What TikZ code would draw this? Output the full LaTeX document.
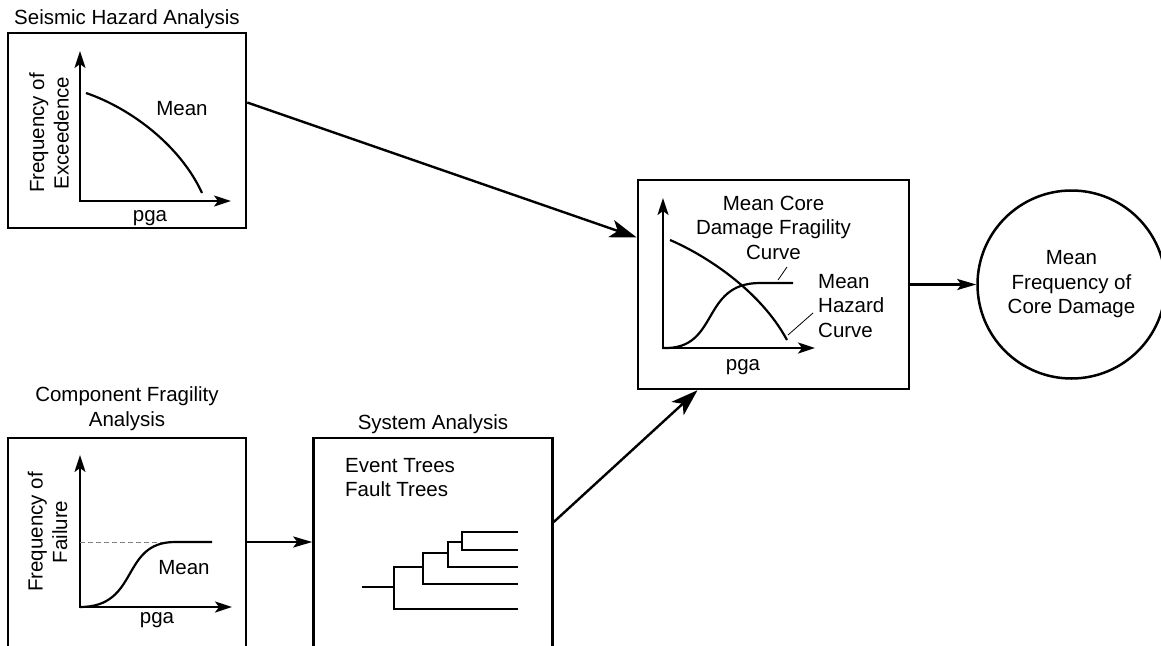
\documentclass[tikz,border=0pt]{standalone}
\usepackage{fontspec}
\setmainfont{Liberation Sans}
\usetikzlibrary{arrows.meta,positioning}

\begin{document}
\begin{tikzpicture}[x=1pt,y=-1pt,font=\fontsize{20.5}{24.5}\selectfont,
                    panel/.style={rectangle, draw, line width=2.5pt, inner sep=0pt},
                    title/.style={align=center, inner sep=0pt},
                    axes/.style={line width=2.2pt, {Stealth[length=17pt,width=11pt,inset=4pt]}-{Stealth[length=17pt,width=11pt,inset=4pt]}},
                    curve/.style={line width=2.2pt},
                    leader/.style={line width=0.8pt},
                    tree/.style={line width=2pt},
                    link/.style={line width=2.4pt, -{Stealth[length=19pt,width=11pt,inset=4pt]}},
                    biglink/.style={line width=2.4pt, -{Stealth[length=27pt,width=18pt,inset=7pt]}}]
  \useasboundingbox (0,0) rectangle (1161,645);
  \clip (0,0) rectangle (1161,645);

  % Nodes
  \node[panel, minimum width=238pt, minimum height=195pt] (hazard) at (127,130.5) {};
  \node[panel, minimum width=238pt, minimum height=222pt] (frag) at (127,549) {};
  \node[panel, minimum width=239pt, minimum height=222pt, right=65pt of frag] (sys) {};
  \node[panel, minimum width=271pt, minimum height=209pt] (core) at (773.5,284.5) {};
  \node[circle, draw, line width=2.5pt, minimum size=188pt, align=center, right=66pt of core] (result) {Mean\\Frequency of\\Core Damage};

  % Titles
  \node[title, above=3pt of hazard] (hazardttl) {Seismic Hazard Analysis};
  \node[title, above=6pt of frag] (fragttl) {Component Fragility\\Analysis};
  \node[title, above=3pt of sys] (systtl) {System Analysis};
  \node[title, below=17pt of core.north] (corettl) {Mean Core\\Damage Fragility\\Curve};

  % Hazard plot
  \draw[axes] (80,51) -- (80,201) -- (231,201);
  \draw[curve] (86,93) .. controls (130,108) and (180,145) .. (202,193);
  \node (hazmean) at (182,109) {Mean};
  \node (hazpga) at (150,218) {pga};
  \node[rotate=90, align=center, inner sep=0pt] (hazy) at (49,133) {Frequency of\\Exceedence};

  % Fragility plot
  \draw[axes] (80,455) -- (80,607) -- (232,607);
  \draw[thin, gray, dash pattern=on 5pt off 3pt] (80,542) -- (170,542);
  \draw[curve] (80,607) .. controls (140,607) and (120,542) .. (175,542) -- (212,542);
  \node (fragmean) at (184,568) {Mean};
  \node (fragpga) at (157,620) {pga};
  \node[rotate=90, align=center, inner sep=0pt] (fragy) at (47.5,532) {Frequency of\\Failure};

  % System trees
  \node[anchor=north west, align=left, inner sep=0pt] (trees) at (345,458) {Event Trees\\Fault Trees};
  \draw[tree] (362,587) -- (394,587);
  \draw[tree] (423,567) -| (394,609) -- (518,609);
  \draw[tree] (448,553) -| (423,584) -- (518,584);
  \draw[tree] (462,542) -| (448,567) -- (518,567);
  \draw[tree] (518,532) -| (462,550) -- (518,550);

  % Core damage plot
  \draw[axes] (663,198) -- (663,348) -- (815,348);
  \draw[curve] (670,240) .. controls (705,255) and (760,290) .. (787,340);
  \draw[curve] (663,348) .. controls (720,350) and (700,283) .. (760,283) -- (793,283);
  \draw[leader] (778,280) -- (787,267);
  \draw[leader] (788,335) -- (813,313);
  \node (corepga) at (743,367) {pga};
  \node[anchor=west, align=left, inner sep=0pt] (hazlbl) at (818,306) {Mean\\Hazard\\Curve};

  % Edges
  \draw[biglink] ([yshift=28pt]hazard.east) -- ([yshift=47pt]core.west);
  \draw[link] ([yshift=7pt]frag.east) -- ([yshift=7pt]sys.west);
  \draw[biglink] ([yshift=27pt]sys.east) -- ([xshift=-76pt]core.south);
  \draw[link] (core) -- (result);
\end{tikzpicture}
\end{document}
